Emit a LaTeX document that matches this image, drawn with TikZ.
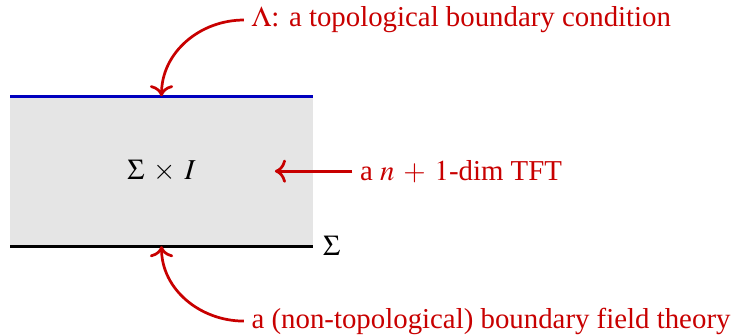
\documentclass[tikz,border=0pt]{standalone}
\usepackage{mathptmx}
\usepackage{fontspec}
\setmainfont{Liberation Serif}
\usepackage{tikz}
\usetikzlibrary{positioning,arrows.meta}

\definecolor{annred}{RGB}{200,0,0}
\definecolor{bdblue}{RGB}{0,0,190}
\medmuskip=5.5mu plus 2mu minus 4mu

\begin{document}
\begin{tikzpicture}[
            every node/.style={font=\fontsize{12.7}{15}\selectfont},
            lbl/.style={text=annred, inner sep=3pt, anchor=west},
            arr/.style={draw=annred, -{To[scale=1.15]}, line width=1.2pt},
            bd/.style={line width=1.2pt},
            thick
        ]
        \useasboundingbox (-0.155,-1.378) rectangle (11.16,3.81);
        \fill[black!10] (0,0) rectangle (4.69,2.32);
        \coordinate (bl)  at (0,0);
        \coordinate (br)  at (4.69,0);
        \coordinate (tl)  at (0,2.32);
        \coordinate (tr)  at (4.69,2.32);
        \coordinate (tm)  at (2.345,2.32);
        \coordinate (bm)  at (2.345,0);
        \coordinate (mid) at (4.10,1.16);
        \draw[bd, bdblue] (tl) -- (tr);
        \draw[bd, black] (bl) -- (br);
        \node (cyl) at (2.345,1.16) {$\Sigma\times I$};
        \node[anchor=west, inner sep=4pt] (sig) at (br) {$\Sigma$};
        \node[lbl] (tft) at (5.30,1.16) {a $n+1$-dim TFT};
        \node[lbl] (lam) at (3.62,3.50) {$\Lambda$: a topological boundary condition};
        \node[lbl] (bft) at (3.62,-1.16) {a (non-topological) boundary field theory};
        \draw[arr] (tft) -- (mid);
        \draw[arr] (lam.west) to[out=180, in=90] (tm);
        \draw[arr] (bft.west) to[out=180, in=-90] (bm);
    \end{tikzpicture}
\end{document}
